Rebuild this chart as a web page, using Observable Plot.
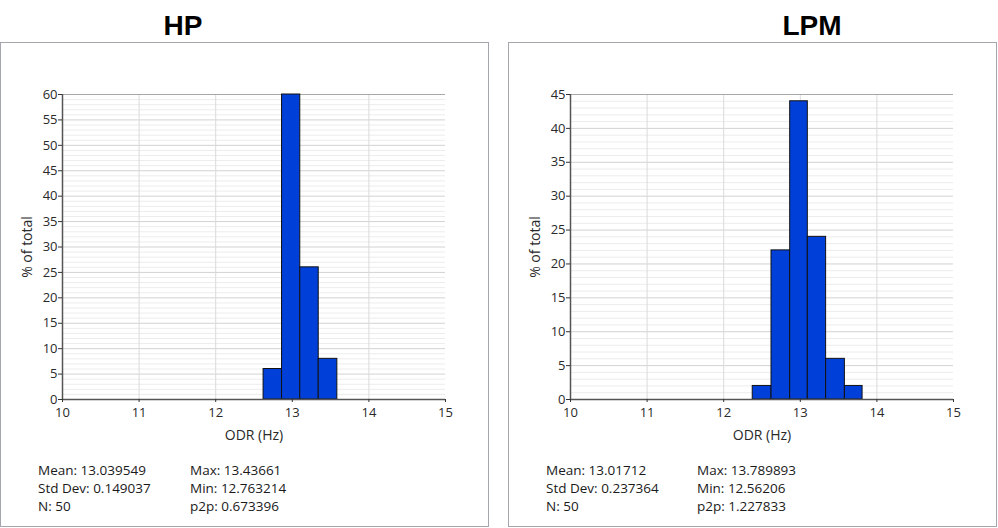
<!DOCTYPE html>
<html>
<head>
<meta charset="utf-8">
<script src="https://cdn.jsdelivr.net/npm/d3@7"></script>
<script src="https://cdn.jsdelivr.net/npm/@observablehq/plot@0.6"></script>
<style>
  html, body { margin: 0; padding: 0; background: #fff; }
  body { width: 998px; height: 528px; position: relative; overflow: hidden; font-family: "Open Sans", "Noto Sans", sans-serif; }
  .panel { position: absolute; top: 42px; width: 487px; height: 483px; border: 1px solid #a3a6ad; box-sizing: content-box; }
  .panel svg { position: absolute; left: 0; top: 0; }
  .title { position: absolute; font-family: "Liberation Sans", Arial, sans-serif; font-weight: bold; font-size: 28px; color: #000; transform: translateX(-50%); line-height: 1; }
  .stats { position: absolute; font-size: 13.5px; color: #1a1a1a; line-height: 18px; white-space: pre; }
  .panel svg g[aria-label="x-axis label"] text, .panel svg g[aria-label="y-axis label"] text { font-size: 14px; }
</style>
</head>
<body>
<script>
// ---- data ----
const panelTitles = ["HP", "LPM"];
const xTicks = [10, 11, 12, 13, 14, 15];
const hpBinEdges = [12.625, 12.866, 13.104, 13.345, 13.588];
const hpPercent = [6, 60, 26, 8];
const lpmBinEdges = [12.379, 12.624, 12.868, 13.098, 13.337, 13.582, 13.813];
const lpmPercent = [2, 22, 44, 24, 6, 2];
const hpYMax = 60;
const lpmYMax = 45;
const hpStatsLeft = ["Mean: 13.039549", "Std Dev: 0.149037", "N: 50"];
const hpStatsRight = ["Max: 13.43661", "Min: 12.763214", "p2p: 0.673396"];
const lpmStatsLeft = ["Mean: 13.01712", "Std Dev: 0.237364", "N: 50"];
const lpmStatsRight = ["Max: 13.789893", "Min: 12.56206", "p2p: 1.227833"];

function makeHist(edges, pct, ymax) {
  const bins = pct.map((p, i) => ({x1: edges[i], x2: edges[i + 1], y: p}));
  const minor = d3.range(0, ymax + 1, 1).filter(v => v % 5 !== 0);
  const major = d3.range(0, ymax + 1, 5);
  return Plot.plot({
    width: 487, height: 483,
    marginLeft: 61, marginRight: 43, marginTop: 51, marginBottom: 127,
    style: {fontFamily: '"Open Sans", "Noto Sans", sans-serif', fontSize: "13px", color: "#2a2a2a", background: "transparent", overflow: "visible"},
    x: {domain: [10, 15]},
    y: {domain: [0, ymax]},
    marks: [
      Plot.ruleY(minor, {stroke: "#ececec", strokeWidth: 1}),
      Plot.ruleY(major.filter(v => v > 0 && v < ymax), {stroke: "#d2d2d2", strokeWidth: 1}),
      Plot.ruleX([11, 12, 13, 14], {stroke: "#dadada", strokeWidth: 1}),
      Plot.ruleY([ymax], {stroke: "#a8a8a8", strokeWidth: 1}),
      Plot.rectY(bins, {x1: "x1", x2: "x2", y: "y", fill: "#0040d8", stroke: "#111", strokeWidth: 1}),
      Plot.ruleY([0], {stroke: "#555", strokeWidth: 1.5}),
      Plot.ruleX([10], {stroke: "#555", strokeWidth: 1.5}),
      Plot.axisX({ticks: xTicks, tickFormat: "d", tickSize: 3, tickPadding: 5, stroke: "#333", fontSize: 13, label: "ODR (Hz)", labelAnchor: "center", labelArrow: "none", labelOffset: 40}),
      Plot.axisY({ticks: major, tickFormat: "d", tickSize: 4, tickPadding: 1, stroke: "#333", fontSize: 13, label: "% of total", labelAnchor: "center", labelArrow: "none", labelOffset: 40})
    ]
  });
}

function addPanel(left, titleX, title, edges, pct, ymax, sl, sr, statsX1, statsX2) {
  const p = document.createElement("div");
  p.className = "panel";
  p.style.left = left + "px";
  p.appendChild(makeHist(edges, pct, ymax));
  document.body.appendChild(p);
  const t = document.createElement("div");
  t.className = "title";
  t.textContent = title;
  t.style.left = titleX + "px";
  t.style.top = "12px";
  document.body.appendChild(t);
  const s1 = document.createElement("div");
  s1.className = "stats";
  s1.textContent = sl.join("\n");
  s1.style.left = statsX1 + "px";
  s1.style.top = "461px";
  document.body.appendChild(s1);
  const s2 = document.createElement("div");
  s2.className = "stats";
  s2.textContent = sr.join("\n");
  s2.style.left = statsX2 + "px";
  s2.style.top = "461px";
  document.body.appendChild(s2);
}

addPanel(0, 183, panelTitles[0], hpBinEdges, hpPercent, hpYMax, hpStatsLeft, hpStatsRight, 38, 190);
addPanel(508, 812, panelTitles[1], lpmBinEdges, lpmPercent, lpmYMax, lpmStatsLeft, lpmStatsRight, 546, 697);
</script>
</body>
</html>
